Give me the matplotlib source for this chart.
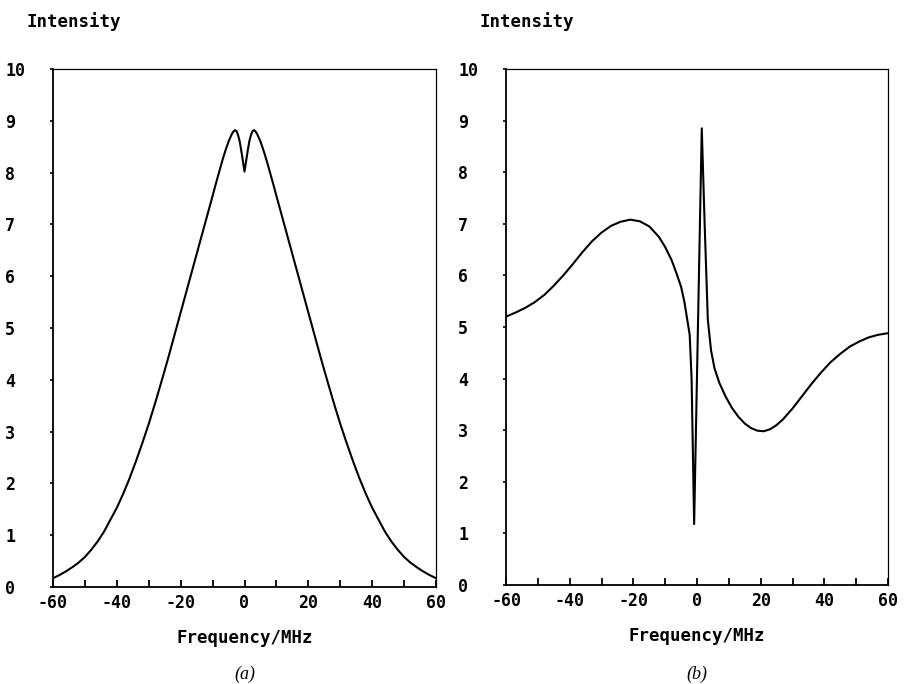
import numpy as np
import matplotlib
matplotlib.use('Agg')
import matplotlib.pyplot as plt

# panel (a): symmetric line with a narrow dip at the centre
freq_a = [-60, -58, -56, -54, -52, -50, -48, -46, -44, -42, -40, -38, -36, -34, -32,
          -30, -28, -26, -24, -22, -20, -18, -16, -14, -12, -10, -9, -8, -7, -6, -5,
          -4, -3.5, -3, -2.5, -2, -1.5, -1, -0.5, 0,
          0.5, 1, 1.5, 2, 2.5, 3, 3.5, 4, 5, 6, 7, 8, 9, 10, 12, 14, 16, 18, 20,
          22, 24, 26, 28, 30, 32, 34, 36, 38, 40, 42, 44, 46, 48, 50, 52, 54, 56, 58, 60]
int_a = [0.17, 0.23, 0.3, 0.38, 0.47, 0.58, 0.72, 0.88, 1.07, 1.3, 1.53, 1.8, 2.1, 2.43, 2.78,
         3.15, 3.55, 3.97, 4.4, 4.85, 5.3, 5.75, 6.2, 6.65, 7.1, 7.55, 7.78, 8.0, 8.22, 8.42, 8.6,
         8.74, 8.79, 8.82, 8.8, 8.72, 8.6, 8.42, 8.22, 8.02,
         8.22, 8.42, 8.6, 8.72, 8.8, 8.82, 8.79, 8.74, 8.6, 8.42, 8.22, 8.0, 7.78, 7.55, 7.1,
         6.65, 6.2, 5.75, 5.3, 4.85, 4.4, 3.97, 3.55, 3.15, 2.78, 2.43, 2.1, 1.8, 1.53, 1.3,
         1.07, 0.88, 0.72, 0.58, 0.47, 0.38, 0.3, 0.23, 0.17]

# panel (b): dispersion-like line with a sharp feature near 0
freq_b = [-60, -57, -54, -51, -48, -45, -42, -39, -36, -33, -30, -27, -24, -21, -18,
          -15, -12, -10, -8, -6.5, -5, -4, -3, -2.3, -1.7, -1.3, -0.9, 1.5, 2.4, 3.4,
          4.4, 5.5, 7, 9, 11, 13, 15, 17, 19, 21, 23, 25, 27, 30, 33, 36, 39, 42, 45,
          48, 51, 54, 57, 60]
int_b = [5.2, 5.28, 5.37, 5.48, 5.62, 5.8, 6.0, 6.22, 6.45, 6.66, 6.83, 6.96, 7.04, 7.08, 7.05,
         6.95, 6.75, 6.55, 6.3, 6.05, 5.78, 5.5, 5.12, 4.85, 4.0, 2.6, 1.18, 8.85, 7.0, 5.14,
         4.55, 4.2, 3.92, 3.65, 3.43, 3.26, 3.13, 3.04, 2.99, 2.98, 3.02, 3.1, 3.21, 3.42, 3.66,
         3.9, 4.12, 4.32, 4.48, 4.62, 4.72, 4.8, 4.85, 4.88]

x_major = [-60, -40, -20, 0, 20, 40, 60]
x_minor = [-50, -30, -10, 10, 30, 50]
y_ticks = list(range(0, 11))

panels = [
    (freq_a, int_a, '(a)', [53, 69, 436, 587]),
    (freq_b, int_b, '(b)', [506, 69, 888, 585]),
]

W, H = 907, 684
fig = plt.figure(figsize=(W / 100, H / 100), dpi=100)
fig.patch.set_facecolor('white')

tick_font = dict(family='DejaVu Sans Mono', weight='bold', size=12)
label_font = dict(family='DejaVu Sans Mono', weight='bold', size=12.5)

for freq, inten, tag, (x0, y0, x1, y1) in panels:
    ax = fig.add_axes([x0 / W, 1 - y1 / H, (x1 - x0) / W, (y1 - y0) / H])
    ax.plot(freq, inten, color='black', lw=1.5)
    ax.set_xlim(-60, 60)
    ax.set_ylim(0, 10)

    ax.set_xticks(x_major)
    ax.set_xticks(x_minor, minor=True)
    ax.set_xticklabels([str(v) for v in x_major], fontdict=tick_font)
    ax.tick_params(axis='x', which='both', direction='in', length=5, width=1.3,
                   pad=5, top=False)

    ax.set_yticks(y_ticks)
    ax.set_yticklabels([str(v) for v in y_ticks], fontdict=tick_font)
    for lbl in ax.get_yticklabels():
        lbl.set_horizontalalignment('left')
    ax.tick_params(axis='y', direction='out', length=2.5, width=1.2, pad=32,
                   right=False)

    # plotter look: heavier left/bottom frame, lighter top/right
    for side, s in ax.spines.items():
        s.set_color('black')
        s.set_linewidth(1.3 if side in ('left', 'bottom') else 0.9)

    ax.set_xlabel('Frequency/MHz', fontdict=label_font, labelpad=12)

    cx = (x0 + x1) / 2 / W
    fig.text(x0 / W - 26 / W, 1 - 22 / H, 'Intensity', ha='left', va='center',
             **label_font)
    fig.text(cx, 1 - 674 / H, tag, ha='center', va='center',
             family='Liberation Serif', style='italic', size=13)

fig.savefig('out.png', dpi=100, facecolor='white')
